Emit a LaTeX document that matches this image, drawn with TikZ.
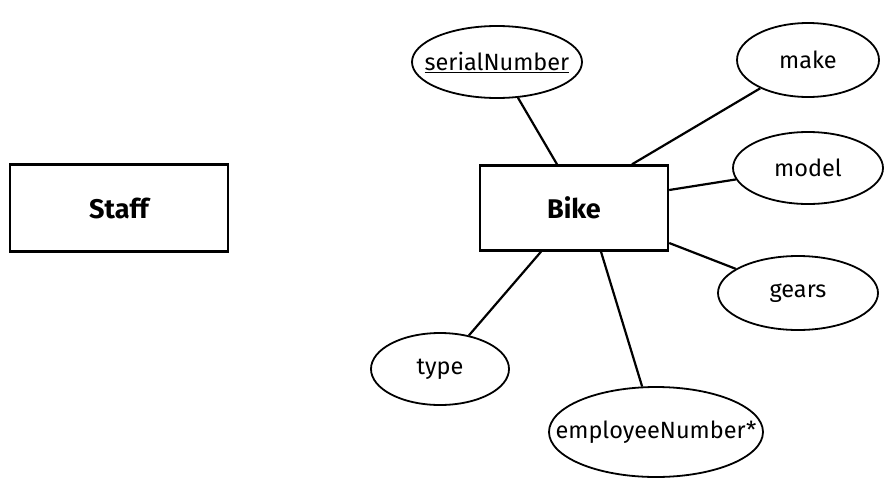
\documentclass[tikz,border=0pt]{standalone}
\usepackage{fontspec}
\setmainfont{Fira Sans}
\usetikzlibrary{shapes.geometric}

% text that does not widen its ellipse
\newcommand{\attrtext}[1]{\makebox[0pt]{#1}}

\begin{document}
\begin{tikzpicture}[
		x=1pt, y=-1pt,
		line width=2pt,
		every node/.style={font=\fontsize{23.5}{27}\selectfont},
		entity/.style={draw, rectangle, line width=2.4pt, minimum width=188pt, minimum height=85pt, font=\fontsize{27}{31}\selectfont\bfseries},
		attribute/.style={draw, ellipse, line width=1.8pt, inner sep=0pt},
		link/.style={line width=2.2pt}
		]

	\useasboundingbox (0, 0) rectangle (886, 482);

	% Entities
	\node[entity, minimum width=218pt, minimum height=87pt] (staff) at (119, 208) {Staff};
	\node[entity] (bike) at (574, 208) {Bike};

	% Attributes of Bike
	\node[attribute, minimum width=170pt, minimum height=72pt] (serial) at (497, 62) {\attrtext{\underline{serialNumber}}};
	\node[attribute, minimum width=142pt, minimum height=74pt] (make) at (808, 60) {\attrtext{make}};
	\node[attribute, minimum width=150pt, minimum height=72pt] (model) at (808, 168) {\attrtext{model}};
	\node[attribute, minimum width=160pt, minimum height=74pt] (gears) at (798, 293) {\attrtext{gears}};
	\node[attribute, minimum width=138pt, minimum height=72pt] (type) at (440, 369) {\attrtext{type}};
	\node[attribute, minimum width=214pt, minimum height=90pt] (employee) at (656, 432) {\attrtext{employeeNumber*}};

	% Links
	\draw[link] (serial) -- ([xshift=-17pt]bike.north);
	\draw[link] (make) -- ([xshift=58pt]bike.north);
	\draw[link] (model) -- ([yshift=18pt]bike.east);
	\draw[link] (gears) -- ([yshift=-35pt]bike.east);
	\draw[link] (type) -- ([xshift=-33pt]bike.south);
	\draw[link] (employee) -- ([xshift=27pt]bike.south);

\end{tikzpicture}
\end{document}
